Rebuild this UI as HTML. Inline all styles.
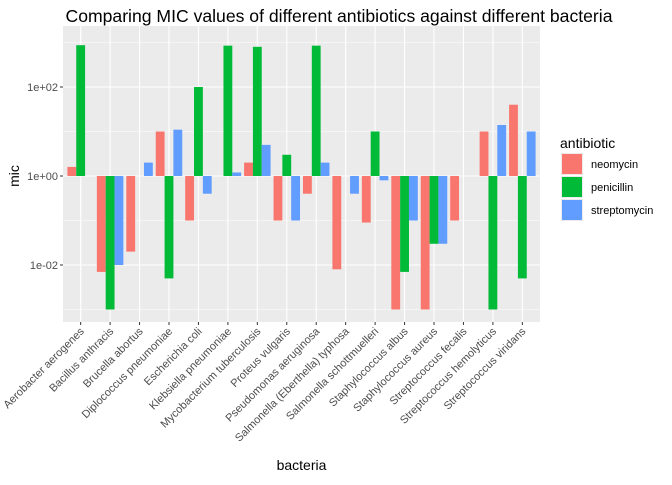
<!DOCTYPE html>
<html><head><meta charset="utf-8"><style>
body{margin:0;background:#fff;font-family:"Liberation Sans",Arial,sans-serif}
</style></head><body>
<svg id="c" width="672" height="480" xmlns="http://www.w3.org/2000/svg"></svg>
<script>
const categories=["Aerobacter aerogenes","Bacillus anthracis","Brucella abortus","Diplococcus pneumoniae","Escherichia coli","Klebsiella pneumoniae","Mycobacterium tuberculosis","Proteus vulgaris","Pseudomonas aeruginosa","Salmonella (Eberthella) typhosa","Salmonella schottmuelleri","Staphylococcus albus","Staphylococcus aureus","Streptococcus fecalis","Streptococcus hemolyticus","Streptococcus viridans"];
const neomycin=[1.6,0.007,0.02,10,0.1,1,2,0.1,0.4,0.008,0.09,0.001,0.001,0.1,10,40];
const penicillin=[870,0.001,1,0.005,100,850,800,3,850,1,10,0.007,0.03,1,0.001,0.005];
const streptomycin=[1,0.01,2,11,0.4,1.2,5,0.1,2,0.4,0.8,0.1,0.03,1,14,10];
const seriesNames=["neomycin","penicillin","streptomycin"];
const colors=["#F8766D","#00BA38","#619CFF"];
const yTicks=[0.01,1,100];const yTickLabels=["1e-02","1e+00","1e+02"];
const minorTicks=[0.001,0.1,10,1000];

const NS="http://www.w3.org/2000/svg",svg=document.getElementById('c');
function el(t,a,p){const e=document.createElementNS(NS,t);for(const k in a)e.setAttribute(k,a[k]);(p||svg).appendChild(e);return e;}
const px0=63,px1=540,py0=26,py1=322;
const step=(px1-px0)/(categories.length-1+1.2);
const xs=i=>px0+(0.6+i)*step;
const ys=v=>176-Math.log10(v)*44.5;
const panel=el('rect',{x:px0,y:py0,width:px1-px0,height:py1-py0,fill:'#EBEBEB'});

minorTicks.forEach(v=>{const y=ys(v);if(y>py0&&y<py1)el('line',{x1:px0,x2:px1,y1:y,y2:y,stroke:'#fff','stroke-width':0.5});});
yTicks.forEach((v,i)=>{const y=ys(v);const g=el('line',{x1:px0,x2:px1,y1:y,y2:y,stroke:'#fff','stroke-width':1.1});

el('line',{x1:px0-3,x2:px0,y1:y,y2:y,stroke:'#333'});
const t=el('text',{x:px0-5,y:y+4,'text-anchor':'end','font-size':11,fill:'#4D4D4D'});t.textContent=yTickLabels[i];
});
categories.forEach((c,i)=>{const x=xs(i);el('line',{x1:x,x2:x,y1:py0,y2:py1,stroke:'#fff','stroke-width':1.1});
el('line',{x1:x,x2:x,y1:py1,y2:py1+3,stroke:'#333'});
const t=el('text',{x:0,y:0,'text-anchor':'end','font-size':11,fill:'#4D4D4D',transform:`translate(${x+4},${py1+10}) rotate(-45)`});t.textContent=c;
});
const data=[neomycin,penicillin,streptomycin];const bw=step*0.3;
data.forEach((s,si)=>s.forEach((v,i)=>{const x=xs(i)-1.5*bw+si*bw;const y=ys(v),y0=ys(1);
const r=el('rect',{x:x,y:Math.min(y,y0),width:bw,height:Math.abs(y-y0),fill:colors[si]});
}));
let t=el('text',{x:339,y:22,'text-anchor':'middle','font-size':17.6,fill:'#000'});t.textContent="Comparing MIC values of different antibiotics against different bacteria";

t=el('text',{x:(px0+px1)/2,y:470,'text-anchor':'middle','font-size':14,fill:'#000'});t.textContent="bacteria";

t=el('text',{x:0,y:0,'text-anchor':'middle','font-size':14,fill:'#000',transform:'translate(19,176) rotate(-90)'});t.textContent="mic";

t=el('text',{x:560,y:148,'font-size':14,fill:'#000'});t.textContent="antibiotic";

seriesNames.forEach((n,i)=>{const y=153+i*23;
const g=el('g',{});
el('rect',{x:561,y:y,width:22,height:22,fill:'#EBEBEB'},g);
el('rect',{x:562,y:y+1,width:20,height:20,fill:colors[i]},g);
const l=el('text',{x:591,y:y+15,'font-size':11,fill:'#000'},g);l.textContent=n;});
</script>
</body></html>
